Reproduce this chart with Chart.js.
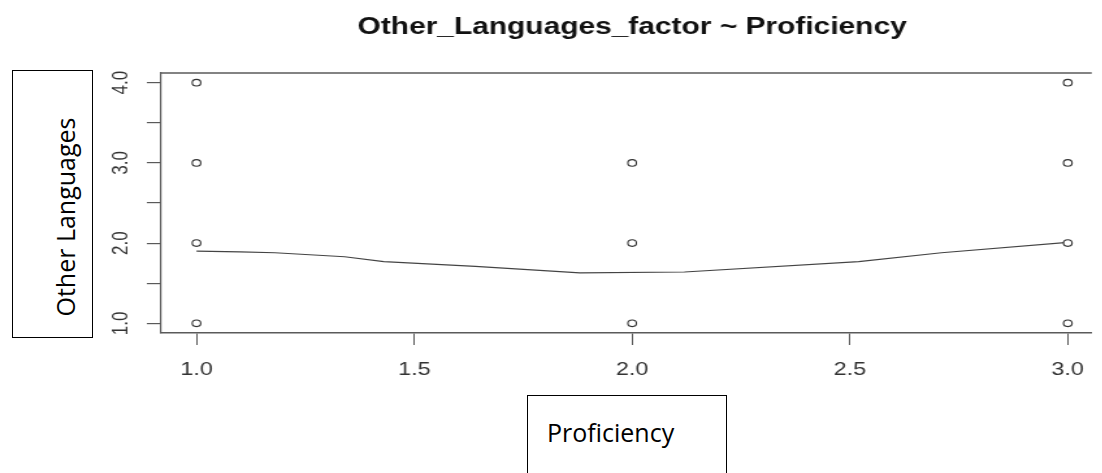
<!DOCTYPE html>
<html>
<head>
<meta charset="utf-8">
<script src="https://cdn.jsdelivr.net/npm/chart.js@4"></script>
<style>
  html, body { margin: 0; padding: 0; background: #fff; }
  #wrap { position: relative; width: 1102px; height: 473px; overflow: hidden; background: #fff; }
  /* the R device output is stretched sideways, so the canvas is too */
  #plot { position: absolute; left: 0; top: 0; transform: scaleX(1.3); transform-origin: 0 0; }
  .box { position: absolute; border: 1.5px solid #000; background: #fff; box-sizing: border-box; }
  .lab { position: absolute; white-space: nowrap; font: 25px "Open Sans", sans-serif; color: #000; }
</style>
</head>
<body>
<div id="wrap">
  <canvas id="plot" width="848" height="473"></canvas>
  <div class="box" style="left:12px; top:70px; width:81px; height:268px;"></div>
  <div class="lab" style="left:65px; top:217px; transform: translate(-50%, -50%) rotate(-90deg);">Other Languages</div>
  <div class="box" style="left:527px; top:395px; width:200px; height:120px;"></div>
  <div class="lab" style="left:547px; top:415px;">Proficiency</div>
</div>
<script>
// raw observations
const proficiency    = [1, 1, 1, 1, 2, 2, 2, 3, 3, 3, 3];
const otherLanguages = [1, 2, 3, 4, 1, 2, 3, 1, 2, 3, 4];

// smoother
const smoothX = [1.00, 1.10, 1.18, 1.34, 1.43, 1.64, 1.88, 2.12, 2.52, 2.71, 3.00];
const smoothY = [1.90, 1.89, 1.88, 1.83, 1.77, 1.71, 1.63, 1.64, 1.77, 1.88, 2.01];

const xTicks = [1.0, 1.5, 2.0, 2.5, 3.0];
const yTicks = [1.0, 1.5, 2.0, 2.5, 3.0, 3.5, 4.0];
const yLabels = [1.0, 2.0, 3.0, 4.0];

const title = "Other_Languages_factor ~ Proficiency";
const AXIS = "#5a5a5a";
const TEXT = "#333";
const FONT = "'Liberation Sans', Arial, sans-serif";

// title, top edge of the box and the rotated y labels
const rPlot = {
  id: "rPlot",
  afterDraw(chart) {
    const { ctx, chartArea: a, scales: { x, y } } = chart;
    ctx.save();
    ctx.strokeStyle = AXIS;
    ctx.lineWidth = 1.5;
    ctx.beginPath(); ctx.moveTo(a.left, a.top); ctx.lineTo(a.right, a.top); ctx.stroke();

    ctx.fillStyle = "#111";
    ctx.font = "bold 23px " + FONT;
    ctx.textAlign = "center";
    ctx.textBaseline = "alphabetic";
    ctx.fillText(title, x.getPixelForValue(2.0), 34);

    ctx.fillStyle = TEXT;
    ctx.font = "17px " + FONT;
    ctx.textBaseline = "middle";
    yLabels.forEach(v => {
      ctx.save();
      ctx.translate(93, y.getPixelForValue(v));
      ctx.rotate(-Math.PI / 2);
      ctx.fillText(v.toFixed(1), 0, 0);
      ctx.restore();
    });
    ctx.restore();
  }
};

new Chart(document.getElementById("plot"), {
  data: {
    datasets: [
      {
        type: "scatter",
        data: proficiency.map((v, i) => ({ x: v, y: otherLanguages[i] })),
        pointStyle: "circle",
        pointRadius: 3.3,
        pointBorderWidth: 1.1,
        pointBorderColor: "#333",
        pointBackgroundColor: "#fff",
      },
      {
        type: "line",
        data: smoothX.map((v, i) => ({ x: v, y: smoothY[i] })),
        borderColor: "#444",
        borderWidth: 1.2,
        pointRadius: 0,
        tension: 0,
        fill: false,
      }
    ]
  },
  options: {
    responsive: false,
    devicePixelRatio: 1,
    animation: false,
    layout: { padding: { top: 73, left: 0, right: 0, bottom: 0 } },
    plugins: { legend: { display: false }, tooltip: { enabled: false }, title: { display: false } },
    scales: {
      x: {
        type: "linear",
        min: 0.919, max: 3.055,
        afterBuildTicks: s => { s.ticks = xTicks.map(v => ({ value: v })); },
        afterFit: s => { s.height = 140; },
        grid: { drawOnChartArea: false, drawTicks: true, tickLength: 12, color: AXIS, lineWidth: 1 },
        border: { display: true, color: AXIS, width: 1.5 },
        ticks: {
          color: TEXT, padding: 14, maxRotation: 0, autoSkip: false,
          font: { family: FONT, size: 18 },
          callback: v => Number(v).toFixed(1),
        },
      },
      y: {
        type: "linear",
        min: 0.88, max: 4.12,
        afterBuildTicks: s => { s.ticks = yTicks.map(v => ({ value: v })); },
        afterFit: s => { s.width = 124; },
        grid: { drawOnChartArea: false, drawTicks: true, tickLength: 11, color: AXIS, lineWidth: 1.2 },
        border: { display: true, color: AXIS, width: 1.2 },
        ticks: { display: false },
      }
    }
  },
  plugins: [rPlot],
});
</script>
</body>
</html>
